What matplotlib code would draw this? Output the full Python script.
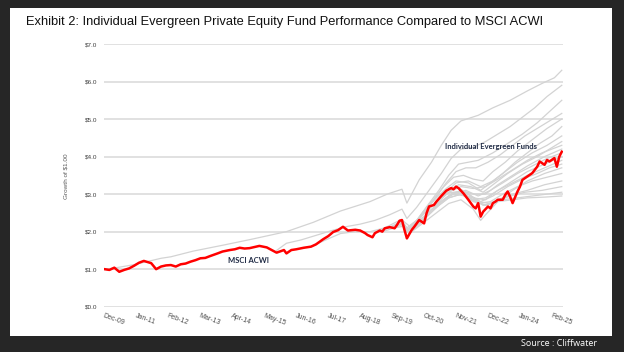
import matplotlib.pyplot as plt
from matplotlib.patches import Rectangle

plt.rcParams['font.family'] = ['Liberation Sans', 'DejaVu Sans']

# months counted from Dec-09 (0) to Jun-25 (186)
tick_labels = ['Dec-09', 'Jan-11', 'Feb-12', 'Mar-13', 'Apr-14', 'May-15', 'Jun-16', 'Jul-17',
               'Aug-18', 'Sep-19', 'Oct-20', 'Nov-21', 'Dec-22', 'Jan-24', 'Feb-25']
tick_months = [0, 13, 26, 39, 52, 65, 78, 91, 104, 117, 130, 143, 156, 169, 182]
y_ticks = [0, 1, 2, 3, 4, 5, 6, 7]

msci_m = [0, 2, 4, 6, 8, 10, 12, 14, 16, 19, 21, 23, 25, 27, 29, 31, 33, 35, 37, 39, 41, 43, 46, 48,
          51, 53, 55, 57, 59, 61, 63, 66, 68, 70, 73, 74, 76, 78, 81, 84, 86, 89, 91, 93, 95, 97, 99,
          102, 104, 106, 107, 109, 110, 112, 113, 114, 116, 118, 119, 120, 121, 122, 123, 125, 126,
          128, 130, 131, 132, 134, 135, 137, 139, 141, 142, 143, 144, 146, 148, 150, 151, 152, 153,
          154, 156, 157, 158, 159, 160, 162, 163, 164, 165, 166, 168, 169, 170, 172, 174, 176, 177,
          179, 180, 181, 183, 184, 185, 186]
msci_v = [1.00, 0.98, 1.04, 0.93, 0.98, 1.02, 1.09, 1.17, 1.22, 1.16, 1.00, 1.07, 1.10, 1.11, 1.07,
          1.13, 1.15, 1.20, 1.24, 1.29, 1.30, 1.35, 1.42, 1.47, 1.51, 1.53, 1.57, 1.55, 1.56, 1.59,
          1.62, 1.58, 1.51, 1.44, 1.51, 1.42, 1.51, 1.53, 1.57, 1.60, 1.66, 1.80, 1.88, 1.99, 2.04,
          2.13, 2.03, 2.05, 2.03, 1.96, 1.91, 1.85, 1.96, 2.03, 2.00, 2.09, 2.12, 2.09, 2.18, 2.29,
          2.31, 2.05, 1.82, 2.05, 2.13, 2.31, 2.22, 2.49, 2.67, 2.71, 2.80, 2.95, 3.09, 3.16, 3.13,
          3.20, 3.16, 3.02, 2.85, 2.67, 2.62, 2.76, 2.40, 2.53, 2.67, 2.62, 2.76, 2.80, 2.85, 2.85,
          2.98, 3.07, 2.93, 2.76, 3.07, 3.20, 3.38, 3.47, 3.56, 3.73, 3.87, 3.78, 3.91, 3.87, 3.96,
          3.73, 4.00, 4.13]

fund_m = [
    [0, 4, 12, 23, 27, 36, 49, 60, 74, 85, 96, 108, 115, 121, 123, 128, 133, 137, 141, 145, 152, 158, 165, 172, 178, 183, 186],
    [70, 74, 80, 86, 92, 98, 104, 110, 116, 121, 123, 127, 132, 137, 141, 145, 150, 155, 160, 165, 170, 175, 180, 186],
    [84, 90, 96, 102, 108, 114, 120, 123, 127, 132, 136, 140, 144, 148, 152, 158, 164, 170, 176, 181, 186],
    [112, 118, 121, 123, 127, 131, 135, 139, 143, 147, 151, 156, 161, 166, 171, 176, 181, 186],
    [116, 120, 123, 126, 130, 134, 138, 142, 146, 150, 154, 158, 163, 168, 174, 180, 186],
    [118, 121, 123, 127, 131, 135, 139, 143, 148, 153, 157, 162, 167, 172, 177, 182, 186],
    [120, 123, 127, 131, 135, 139, 143, 148, 153, 158, 163, 168, 174, 180, 186],
    [113, 118, 122, 124, 128, 132, 136, 140, 144, 149, 154, 159, 164, 170, 176, 181, 186],
    [121, 124, 128, 132, 136, 140, 145, 150, 155, 160, 166, 172, 178, 186],
    [125, 128, 132, 136, 140, 145, 150, 155, 160, 166, 172, 179, 186],
    [126, 130, 134, 138, 142, 147, 152, 157, 162, 168, 174, 180, 186],
    [119, 122, 124, 128, 132, 136, 140, 145, 150, 155, 160, 166, 172, 179, 186],
    [128, 132, 136, 140, 145, 150, 155, 160, 166, 172, 179, 186],
    [131, 135, 139, 143, 148, 153, 158, 164, 170, 176, 181, 186],
    [122, 124, 128, 132, 136, 140, 145, 150, 153, 155, 160, 166, 172, 179, 186],
    [134, 138, 142, 147, 152, 157, 162, 168, 174, 180, 186],
    [137, 141, 145, 150, 155, 160, 166, 172, 179, 186],
    [140, 144, 149, 154, 159, 165, 171, 178, 186],
    [143, 147, 152, 157, 162, 168, 174, 180, 186],
    [146, 150, 155, 160, 166, 172, 179, 186],
]
fund_v = [
    [1.00, 1.03, 1.12, 1.29, 1.33, 1.48, 1.65, 1.80, 2.00, 2.25, 2.55, 2.80, 3.00, 3.13, 2.76, 3.38, 3.85, 4.30, 4.70, 4.95, 5.10, 5.30, 5.50, 5.75, 5.95, 6.10, 6.30],
    [1.50, 1.69, 1.78, 1.90, 2.02, 2.13, 2.20, 2.30, 2.45, 2.60, 2.35, 2.65, 3.10, 3.55, 3.95, 4.20, 4.25, 4.40, 4.60, 4.80, 5.05, 5.30, 5.60, 5.90],
    [1.60, 1.78, 1.95, 2.00, 2.00, 2.10, 2.30, 2.00, 2.30, 2.75, 3.10, 3.50, 3.80, 3.85, 3.90, 4.10, 4.35, 4.60, 4.90, 5.20, 5.50],
    [2.03, 2.15, 2.30, 2.05, 2.30, 2.65, 2.95, 3.30, 3.60, 3.70, 3.70, 3.85, 4.05, 4.30, 4.55, 4.75, 4.95, 5.15],
    [2.12, 2.25, 2.00, 2.20, 2.55, 2.85, 3.20, 3.45, 3.50, 3.40, 3.35, 3.60, 3.85, 4.15, 4.45, 4.75, 5.00],
    [2.09, 2.20, 2.00, 2.25, 2.60, 2.90, 3.15, 3.35, 3.30, 3.10, 3.30, 3.55, 3.85, 4.10, 4.35, 4.55, 4.80],
    [2.29, 2.10, 2.30, 2.55, 2.80, 3.05, 3.30, 3.35, 3.20, 3.35, 3.60, 3.85, 4.10, 4.30, 4.55],
    [2.00, 2.10, 2.15, 1.95, 2.20, 2.50, 2.80, 3.05, 3.25, 3.20, 3.05, 3.30, 3.55, 3.80, 4.00, 4.20, 4.40],
    [2.31, 2.15, 2.35, 2.60, 2.85, 3.05, 3.20, 3.15, 3.20, 3.40, 3.65, 3.90, 4.10, 4.30],
    [2.05, 2.25, 2.50, 2.75, 2.95, 3.10, 3.00, 3.00, 3.25, 3.50, 3.75, 4.00, 4.20],
    [2.13, 2.35, 2.60, 2.85, 3.05, 3.10, 2.95, 3.10, 3.30, 3.55, 3.75, 3.95, 4.10],
    [2.18, 2.20, 2.00, 2.20, 2.45, 2.70, 2.90, 3.00, 2.90, 2.85, 3.10, 3.35, 3.60, 3.80, 4.00],
    [2.31, 2.50, 2.70, 2.90, 3.00, 2.85, 2.90, 3.10, 3.30, 3.50, 3.70, 3.90],
    [2.49, 2.70, 2.90, 3.05, 3.00, 2.80, 2.95, 3.20, 3.40, 3.55, 3.70, 3.80],
    [2.10, 1.95, 2.15, 2.35, 2.55, 2.75, 2.85, 2.60, 2.30, 2.45, 2.80, 3.10, 3.35, 3.55, 3.70],
    [2.71, 2.85, 3.00, 2.95, 2.75, 2.80, 3.00, 3.20, 3.35, 3.45, 3.55],
    [2.95, 3.05, 3.00, 2.80, 2.70, 2.85, 3.00, 3.10, 3.25, 3.35],
    [3.16, 3.15, 2.95, 2.70, 2.80, 2.95, 3.05, 3.10, 3.20],
    [3.20, 3.05, 2.80, 2.75, 2.85, 2.90, 2.95, 3.00, 3.05],
    [3.02, 2.85, 2.70, 2.80, 2.85, 2.90, 2.92, 2.95],
]

fig = plt.figure(figsize=(6.24, 3.52), dpi=100, facecolor='#262626')
fig.patches.append(Rectangle((10 / 624, 16 / 352), 602 / 624, 328 / 352, transform=fig.transFigure,
                             facecolor='white', edgecolor='none', zorder=-10))

ax = fig.add_axes([104.5 / 624, 45.3 / 352, 458.5 / 624, 262.7 / 352])
ax.set_facecolor('white')

for fm, fv in zip(fund_m, fund_v):
    ax.plot(fm, fv, color='#d3d3d3', lw=0.9, zorder=2)
ax.plot(msci_m, msci_v, color='#ff0000', lw=1.8, zorder=3)

ax.set_xlim(0, 186.5)
ax.set_ylim(0, 7)
ax.set_yticks(y_ticks)
ax.set_yticklabels(['${:.1f}'.format(v) for v in y_ticks])
ax.set_xticks(tick_months)
ax.set_xticklabels(tick_labels, rotation=-20, ha='left', va='top', rotation_mode='anchor')
ax.tick_params(axis='y', length=0, pad=5, labelsize=4.6, labelcolor='#404040')
ax.tick_params(axis='x', length=0, pad=4, labelsize=5, labelcolor='#505050')
ax.grid(axis='y', color='#d9d9d9', lw=1.1, zorder=1)
ax.grid(axis='x', visible=False)
ax.set_axisbelow(True)
for s in ax.spines.values():
    s.set_visible(False)

ax.text(157.2, 4.26, 'Individual Evergreen Funds', fontsize=5.5, fontweight='bold', color='#1f2a44',
        ha='center', va='center', family=['Lato', 'DejaVu Sans'], zorder=4)
ax.text(58.6, 1.22, 'MSCI ACWI', fontsize=5.5, fontweight='bold', color='#1f2a44',
        ha='center', va='center', family=['Lato', 'DejaVu Sans'], zorder=4)

fig.text(26 / 624, 1 - 22 / 352,
         'Exhibit 2: Individual Evergreen Private Equity Fund Performance Compared to MSCI ACWI',
         fontsize=9.3, color='#111111', va='center', ha='left')
fig.text(66 / 624, 1 - 176 / 352, 'Growth of $1.00', rotation=90, fontsize=4.6, color='#595959',
         ha='center', va='center')
fig.text(597 / 624, 1 - 343 / 352, 'Source : Cliffwater', fontsize=6.5, color='white',
         ha='right', va='center', family=['Open Sans', 'DejaVu Sans'])

fig.savefig('out.png', dpi=100, facecolor=fig.get_facecolor())
